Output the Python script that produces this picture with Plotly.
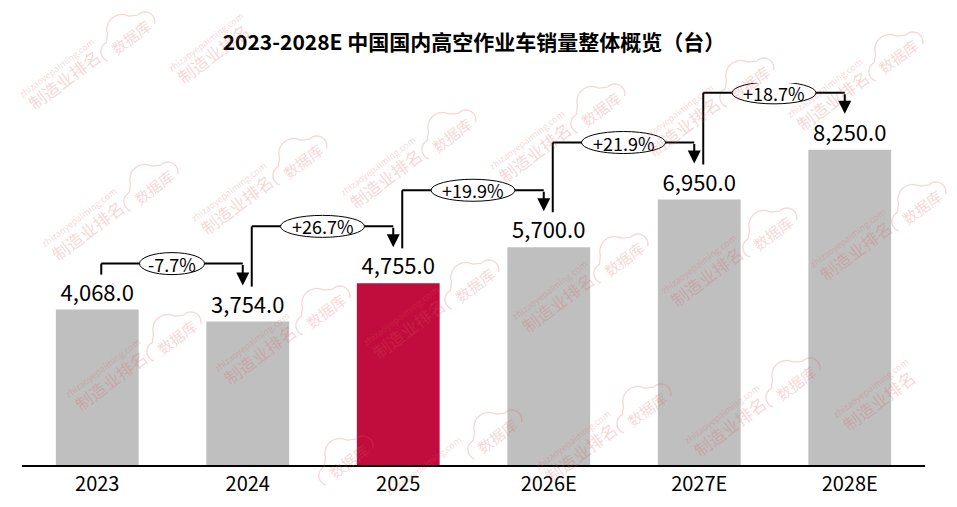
import math
import plotly.graph_objects as go

# data
years = ["2023", "2024", "2025", "2026E", "2027E", "2028E"]
sales = [4068, 3754, 4755, 5700, 6950, 8250]
highlight_year = "2025"

title = "2023-2028E 中国国内高空作业车销量整体概览（台）"
font_family = "Noto Sans CJK SC, Noto Sans, sans-serif"

# the page body adds an 8px margin, so the figure is sized to fit inside it
PAGE = 8
W, H = 957 - 2 * PAGE, 507 - 2 * PAGE
ml, mr, mt, mb = 14, 24, 75, 34
plot_w = W - ml - mr
plot_h = H - mt - mb
y_max = 10000
upp = y_max / plot_h          # data units per pixel (y)
cat_px = plot_w / len(years)  # pixels per category (x)

gray = "#BFBFBF"
red = "#C10D3D"
colors = [red if y == highlight_year else gray for y in years]
xs = list(range(len(years)))

fig = go.Figure()
fig.add_trace(go.Bar(
    x=xs, y=sales, width=0.55,
    marker=dict(color=colors, line=dict(width=0)),
    texttemplate="%{y:,.1f}", textposition="outside",
    textfont=dict(size=22, color="black", family=font_family),
    cliponaxis=False, hoverinfo="skip",
))

shapes = []
annotations = []

# faint site watermark, tiled (page pixel positions -> paper coords)
wm_color = "rgba(222,90,90,0.25)"
origin = (678, 295)
step_a = (149, -26)
step_b = (23, 150)
ang = math.radians(37)
d = (math.cos(ang), -math.sin(ang))     # along the text
n = (-math.sin(ang), -math.cos(ang))    # "up" from the text


def to_paper(px, py):
    return (px - PAGE - ml) / plot_w, (H - mb - (py - PAGE)) / plot_h


def fits(cx, cy, length, height, pad=8):
    hx = length / 2 * d[0] + height / 2 * abs(d[1])
    hy = length / 2 * abs(d[1]) + height / 2 * d[0]
    return (cx - hx > pad and cx + hx < 957 - pad
            and cy - hy > pad and cy + hy < 507 - pad)


parts = [(28, -19, "制造业排名", 17, 88),
         (94, -62, "数据库", 15, 48),
         (20, -31, "zhizaoyepaiming.com", 9, 96)]

for a in range(-8, 9):
    for b in range(-6, 7):
        px = origin[0] + a * step_a[0] + b * step_b[0]
        py = origin[1] + a * step_a[1] + b * step_b[1]
        for dx, dy, txt, size, length in parts:
            cx, cy = px + dx, py + dy
            if not fits(cx, cy, length, size):
                continue
            xp, yp = to_paper(cx, cy)
            annotations.append(dict(x=xp, y=yp, xref="paper", yref="paper",
                                    xanchor="center", yanchor="middle",
                                    text=txt, showarrow=False, textangle=-37,
                                    font=dict(size=size, color=wm_color,
                                              family=font_family)))
            if txt == "数据库":
                # cloud outline over the word
                pts = []
                for (cu, cv, r, t0, t1) in [(-24, 0, 10, 215, 80),
                                            (-2, 11, 15, 160, 25),
                                            (21, 3, 10, 100, -50)]:
                    for k in range(10):
                        t = math.radians(t0 + (t1 - t0) * k / 9)
                        u, v = cu + r * math.cos(t), cv + r * math.sin(t)
                        sx = cx + u * d[0] + v * n[0]
                        sy = cy + u * d[1] + v * n[1]
                        pts.append(to_paper(sx, sy))
                path = "M " + " L ".join(f"{x:.5f},{y:.5f}" for x, y in pts)
                shapes.append(dict(type="path", xref="paper", yref="paper",
                                   path=path, layer="above",
                                   line=dict(color=wm_color, width=1.3)))

# growth connectors between neighbouring bars
for i in range(len(sales) - 1):
    v0, v1 = sales[i], sales[i + 1]
    growth = (v1 / v0 - 1) * 100
    label = f"{growth:+.1f}%"
    x0 = i + 4 / cat_px
    x1 = i + 1 - 5 / cat_px
    y_start = v0 + 35 * upp
    y_tip = v1 + 36 * upp
    rise = 57 if v1 >= v0 else 46
    y_h = max(v0, v1) + rise * upp
    line = dict(color="black", width=2)
    shapes.append(dict(type="line", xref="x", yref="y", x0=x0, x1=x0,
                       y0=y_start, y1=y_h, line=line, layer="above"))
    shapes.append(dict(type="line", xref="x", yref="y", x0=x0, x1=x1,
                       y0=y_h, y1=y_h, line=line, layer="above"))
    annotations.append(dict(x=x1, y=y_tip, ax=x1, ay=y_h, xref="x", yref="y",
                            axref="x", ayref="y", text="", showarrow=True,
                            arrowhead=2, arrowsize=1.3, arrowwidth=2,
                            arrowcolor="black", standoff=0, startstandoff=0))
    xm = (x0 + x1) / 2
    ew = (19 * len(label) - 30) / cat_px / 2
    eh = 11 * upp
    shapes.append(dict(type="circle", xref="x", yref="y",
                       x0=xm - ew, x1=xm + ew, y0=y_h - eh, y1=y_h + eh,
                       fillcolor="white", line=dict(color="black", width=1),
                       layer="above"))
    annotations.append(dict(x=xm, y=y_h, xref="x", yref="y", text=label,
                            showarrow=False,
                            font=dict(size=18, color="black", family=font_family)))

fig.update_layout(
    width=W, height=H,
    margin=dict(l=ml, r=mr, t=mt, b=mb),
    paper_bgcolor="white", plot_bgcolor="white",
    showlegend=False,
    title=dict(text=f"<b>{title}</b>", x=(474 - PAGE) / W, xref="container",
               y=1 - (43 - PAGE) / H, yref="container",
               xanchor="center", yanchor="middle",
               font=dict(size=21, color="black", family=font_family)),
    xaxis=dict(range=[-0.5, len(years) - 0.5], tickvals=xs, ticktext=years,
               showline=True, linecolor="black", linewidth=1.5,
               showgrid=False, zeroline=False, ticks="", automargin=False,
               tickfont=dict(size=20, color="black", family=font_family)),
    yaxis=dict(range=[0, y_max], showticklabels=False, showgrid=False,
               zeroline=False, showline=False, automargin=False),
    shapes=shapes,
    annotations=annotations,
)

fig.write_html("out.html")
